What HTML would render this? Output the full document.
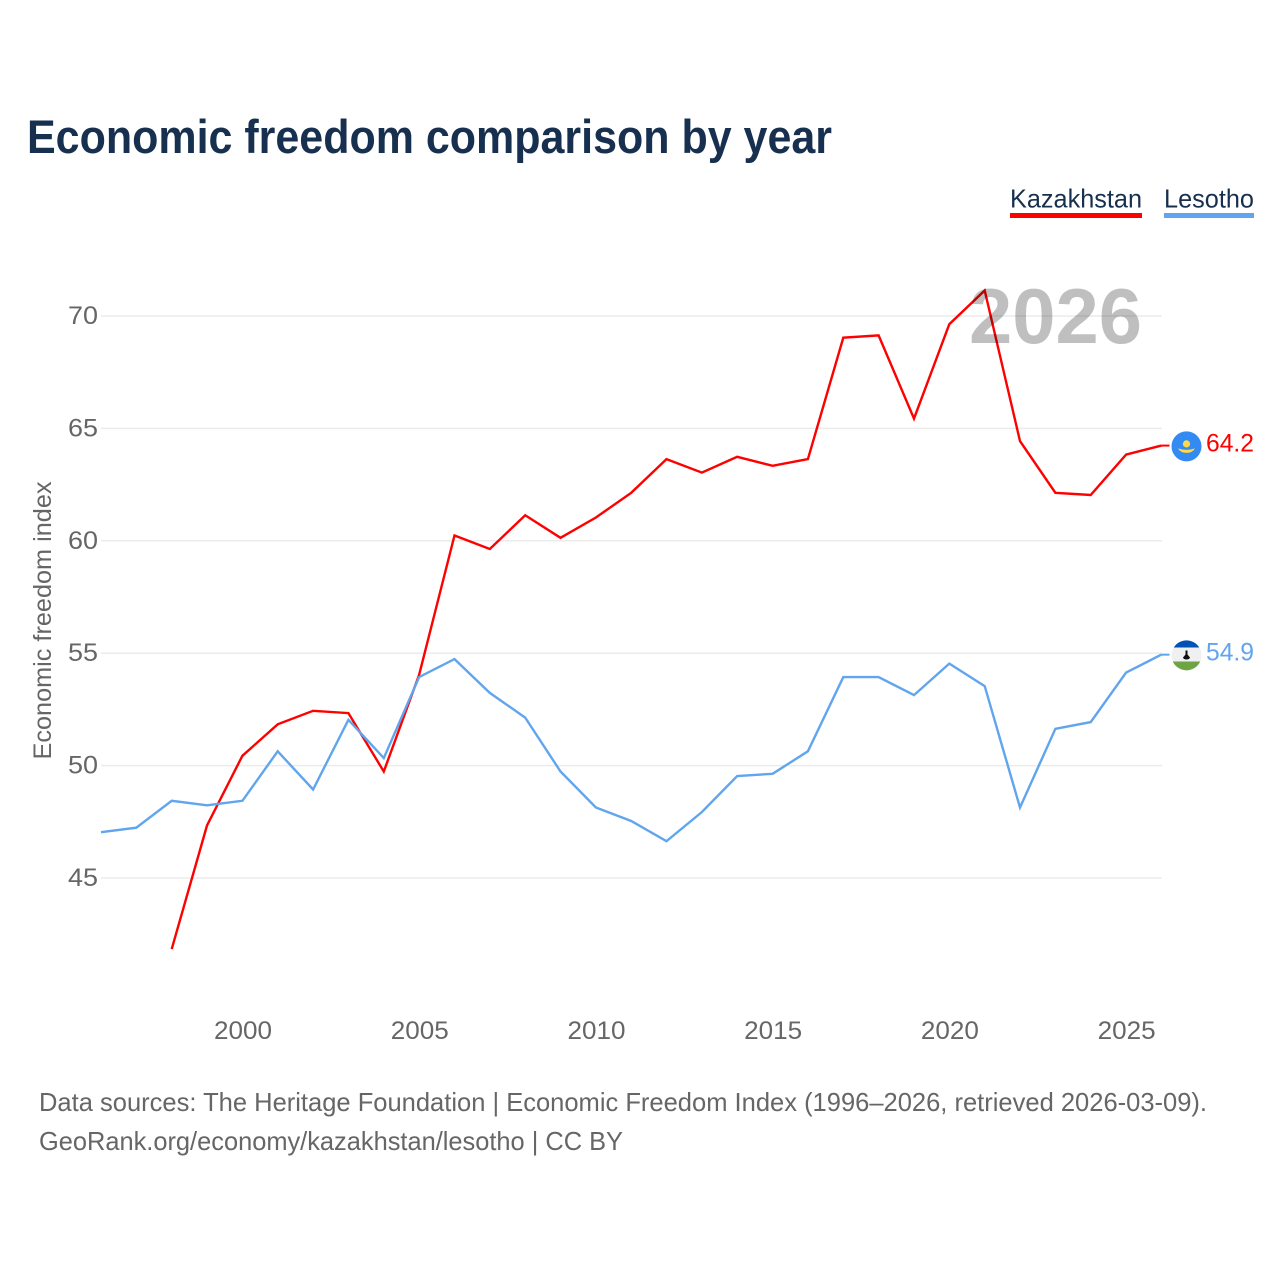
<!DOCTYPE html>
<html lang="en">
<head>
<meta charset="utf-8">
<title>Economic freedom comparison by year</title>
<style>
html,body{margin:0;padding:0;background:#fff;width:1280px;height:1280px;overflow:hidden}
svg{display:block;font-family:"Liberation Sans",sans-serif}
</style>
</head>
<body>
<svg id="chart" xmlns="http://www.w3.org/2000/svg" width="1280" height="1280" viewBox="0 0 1280 1280">
  <text x="27" y="153" font-size="47" font-weight="700" fill="#18304f" textLength="805" lengthAdjust="spacingAndGlyphs">Economic freedom comparison by year</text>

  <g>
    <text x="1010" y="207.5" font-size="26" fill="#18304f" textLength="132" lengthAdjust="spacingAndGlyphs">Kazakhstan</text>
    <rect x="1010" y="213" width="132" height="5" fill="#ff0000"/>
  </g>
  <g>
    <text x="1164" y="207.5" font-size="26" fill="#18304f" textLength="90" lengthAdjust="spacingAndGlyphs">Lesotho</text>
    <rect x="1164" y="213" width="90" height="5" fill="#60a5ee"/>
  </g>

  <g id="grid"></g>
  <g id="yticks"></g>
  <g id="xticks"></g>
  <g id="series" transform="translate(-0.6,-0.8)"></g>
  <g id="ends"></g>

  <text transform="translate(51,620.5) rotate(-90)" text-anchor="middle" font-size="25" fill="#666666" textLength="278" lengthAdjust="spacingAndGlyphs">Economic freedom index</text>

  <text x="969" y="343" font-size="78" font-weight="700" fill="#000000" fill-opacity="0.25" textLength="173" lengthAdjust="spacingAndGlyphs">2026</text>

  <text x="39" y="1111" font-size="26" fill="#666666" textLength="1168" lengthAdjust="spacingAndGlyphs">Data sources: The Heritage Foundation | Economic Freedom Index (1996–2026, retrieved 2026-03-09).</text>
  <text x="39" y="1150" font-size="26" fill="#666666" textLength="584" lengthAdjust="spacingAndGlyphs">GeoRank.org/economy/kazakhstan/lesotho | CC BY</text>
</svg>
<script>
var years = [1996,1997,1998,1999,2000,2001,2002,2003,2004,2005,2006,2007,2008,2009,2010,2011,2012,2013,2014,2015,2016,2017,2018,2019,2020,2021,2022,2023,2024,2025,2026];
var kazakhstanValues = [null,null,41.8,47.3,50.4,51.8,52.4,52.3,49.7,54.0,60.2,59.6,61.1,60.1,61.0,62.1,63.6,63.0,63.7,63.3,63.6,69.0,69.1,65.4,69.6,71.1,64.4,62.1,62.0,63.8,64.2];
var lesothoValues = [47.0,47.2,48.4,48.2,48.4,50.6,48.9,52.0,50.3,53.9,54.7,53.2,52.1,49.7,48.1,47.5,46.6,47.9,49.5,49.6,50.6,53.9,53.9,53.1,54.5,53.5,48.1,51.6,51.9,54.1,54.9];
var yTickValues = [45,50,55,60,65,70];
var xTickValues = [2000,2005,2010,2015,2020,2025];

var NS = 'http://www.w3.org/2000/svg';
function xScale(year){ return 101.6 + (year - 1996) * (1162 - 101.6) / 30; }
function yScale(value){ return 316 + (70 - value) * 22.48; }
function make(tag, parent){
  var el = document.createElementNS(NS, tag);
  parent.appendChild(el);
  return el;
}

var gridGroup = document.getElementById('grid');
var yGroup = document.getElementById('yticks');
yTickValues.forEach(function(v){
  var ln = make('line', gridGroup);
  
  
  ln.setAttribute('x1', 101);
  ln.setAttribute('x2', 1162);
  ln.setAttribute('y1', yScale(v));
  ln.setAttribute('y2', yScale(v));
  ln.setAttribute('stroke', '#ebebeb');
  ln.setAttribute('stroke-width', '1.5');
  var t = make('text', yGroup);
  
  
  t.setAttribute('x', 98);
  t.setAttribute('y', yScale(v) + 8);
  t.setAttribute('text-anchor', 'end');
  t.setAttribute('font-size', '25');
  t.setAttribute('fill', '#666666');
  t.setAttribute('textLength', '30');
  t.setAttribute('lengthAdjust', 'spacingAndGlyphs');
  t.textContent = v;
});

var xGroup = document.getElementById('xticks');
xTickValues.forEach(function(v){
  var t = make('text', xGroup);
  
  
  t.setAttribute('x', xScale(v));
  t.setAttribute('y', 1039);
  t.setAttribute('text-anchor', 'middle');
  t.setAttribute('font-size', '25');
  t.setAttribute('fill', '#666666');
  t.setAttribute('textLength', '58');
  t.setAttribute('lengthAdjust', 'spacingAndGlyphs');
  t.textContent = v;
});

function linePoints(values){
  var pts = [];
  values.forEach(function(v, i){
    if (v !== null) pts.push(xScale(years[i]).toFixed(1) + ',' + yScale(v).toFixed(1));
  });
  return pts.join(' ');
}

var seriesGroup = document.getElementById('series');
var kazLine = make('polyline', seriesGroup);


kazLine.setAttribute('points', linePoints(kazakhstanValues));
kazLine.setAttribute('fill', 'none');
kazLine.setAttribute('stroke', '#ff0000');
kazLine.setAttribute('stroke-width', '2.4');
var lesLine = make('polyline', seriesGroup);


lesLine.setAttribute('points', linePoints(lesothoValues));
lesLine.setAttribute('fill', 'none');
lesLine.setAttribute('stroke', '#60a5ee');
lesLine.setAttribute('stroke-width', '2.4');

var endGroup = document.getElementById('ends');
var cx = 1186.5, r = 15;

function endLabel(value, color, name){
  var y = yScale(value) - 0.8;
  var c = make('line', endGroup);
  
  
  c.setAttribute('x1', xScale(2026) - 0.6);
  c.setAttribute('x2', 1169.5);
  c.setAttribute('y1', y);
  c.setAttribute('y2', y);
  c.setAttribute('stroke', color);
  c.setAttribute('stroke-width', '2');
  var t = make('text', endGroup);
  
  
  t.setAttribute('x', 1206);
  t.setAttribute('y', y + 6);
  t.setAttribute('font-size', '25');
  t.setAttribute('fill', color);
  t.setAttribute('textLength', '48');
  t.setAttribute('lengthAdjust', 'spacingAndGlyphs');
  t.textContent = value.toFixed(1);
}
endLabel(kazakhstanValues[kazakhstanValues.length - 1], '#ff0000', 'kazakhstan');
endLabel(lesothoValues[lesothoValues.length - 1], '#60a5ee', 'lesotho');

// Kazakhstan flag
var ky = yScale(kazakhstanValues[kazakhstanValues.length - 1]);
var kf = make('g', endGroup);


kf.setAttribute('transform', 'translate(' + cx + ',' + ky + ')');
var kb = make('circle', kf);
kb.setAttribute('r', r);
kb.setAttribute('fill', '#338af3');
var ks = make('circle', kf);
ks.setAttribute('cy', -2.5);
ks.setAttribute('r', 3.6);
ks.setAttribute('fill', '#ffda44');
var ke = make('path', kf);
ke.setAttribute('d', 'M-8.5 2 Q-4 3.5 0 3.5 Q4 3.5 8.5 2 Q6 6.5 0 6.5 Q-6 6.5 -8.5 2Z');
ke.setAttribute('fill', '#ffda44');

// Lesotho flag
var ly = yScale(lesothoValues[lesothoValues.length - 1]);
var lf = make('g', endGroup);


lf.setAttribute('transform', 'translate(' + cx + ',' + ly + ')');
var lb = make('circle', lf);
lb.setAttribute('r', r);
lb.setAttribute('fill', '#f0f0f0');
var lt = make('path', lf);
lt.setAttribute('d', 'M-12.7 -8 A15 15 0 0 1 12.7 -8Z');
lt.setAttribute('fill', '#0052b4');
var lg = make('path', lf);
lg.setAttribute('d', 'M-13.7 6 A15 15 0 0 0 13.7 6Z');
lg.setAttribute('fill', '#6da544');
var lh = make('path', lf);
lh.setAttribute('d', 'M-1 -5 H1 V-1 L3.5 2 Q3 4 0 4 Q-3 4 -3.5 2 L-1 -1Z');
lh.setAttribute('fill', '#111111');
</script>
</body>
</html>
